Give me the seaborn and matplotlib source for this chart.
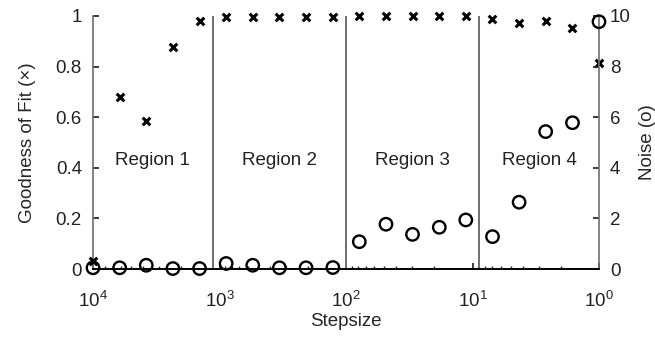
import pandas as pd
import seaborn as sns
import matplotlib.pyplot as plt
import matplotlib.ticker as mticker

sns.set_theme(style="ticks")
plt.rcParams["font.family"] = ["Liberation Sans", "DejaVu Sans"]

## Data
stepsize = [10000, 6158, 3793, 2336, 1438,
            886, 546, 336, 207, 127,
            78.5, 48.3, 29.8, 18.3, 11.3,
            6.95, 4.28, 2.64, 1.62, 1.0]
goodness = [0.03, 0.68, 0.585, 0.876, 0.981,
            0.997, 0.997, 0.997, 0.997, 0.997,
            0.998, 0.998, 0.998, 0.998, 0.998,
            0.987, 0.97, 0.98, 0.953, 0.813]
noise = [0.05, 0.05, 0.15, 0.02, 0.02,
         0.22, 0.15, 0.05, 0.05, 0.06,
         1.08, 1.77, 1.37, 1.65, 1.94,
         1.28, 2.64, 5.43, 5.78, 9.77]
region_bounds = [1129, 100, 8.86]
region_labels = ["Region 1", "Region 2", "Region 3", "Region 4"]
region_centers = [3360, 336, 29.8, 2.98]

df = pd.DataFrame({"Stepsize": stepsize, "Goodness": goodness, "Noise": noise})

FS = 13.5
fig = plt.figure(figsize=(6.55, 3.38), dpi=100)
ax = fig.add_axes([0.142, 0.204, 0.7725, 0.749])
ax2 = ax.twinx()

sns.scatterplot(data=df, x="Stepsize", y="Goodness", marker="x", color="black",
                s=30, linewidth=2.2, ax=ax, clip_on=False, zorder=5)
sns.scatterplot(data=df, x="Stepsize", y="Noise", marker="o", facecolor="none",
                edgecolor="black", s=80, linewidth=1.7, ax=ax2, clip_on=False, zorder=5)

for b in region_bounds:
    ax.axvline(b, color="#6e6e6e", lw=1.4, zorder=1)
for lab, c in zip(region_labels, region_centers):
    ax.text(c, 0.43, lab, ha="center", va="center", fontsize=FS, color="#222222")

ax.set_xscale("log")
ax.set_xlim(1e4, 1e0)
ax.set_ylim(0, 1)
ax2.set_ylim(0, 10)
ax.set_yticks([0, 0.2, 0.4, 0.6, 0.8, 1])
ax.yaxis.set_major_formatter(mticker.FuncFormatter(lambda v, p: f"{v:g}"))
ax2.set_yticks([0, 2, 4, 6, 8, 10])

for a in (ax, ax2):
    a.tick_params(axis="both", which="both", direction="in", labelsize=FS,
                  colors="#222222", length=4, pad=8)
    a.tick_params(axis="x", which="minor", length=2.5)
    a.spines["top"].set_visible(False)
    a.spines["left"].set_color("#6e6e6e")
    a.spines["right"].set_color("#6e6e6e")
    a.spines["bottom"].set_color("black")
    for s in a.spines.values():
        s.set_linewidth(1.2)
ax.tick_params(axis="x", which="both", pad=16)
ax2.spines["left"].set_visible(False)
ax.spines["right"].set_visible(False)
ax2.set_xlim(1e4, 1e0)

ax.set_xlabel("Stepsize", fontsize=FS, labelpad=1)
ax.set_ylabel("Goodness of Fit (×)", fontsize=FS, labelpad=14)
ax2.set_ylabel("Noise (o)", fontsize=FS, labelpad=6)

fig.savefig("out.png", dpi=100)
